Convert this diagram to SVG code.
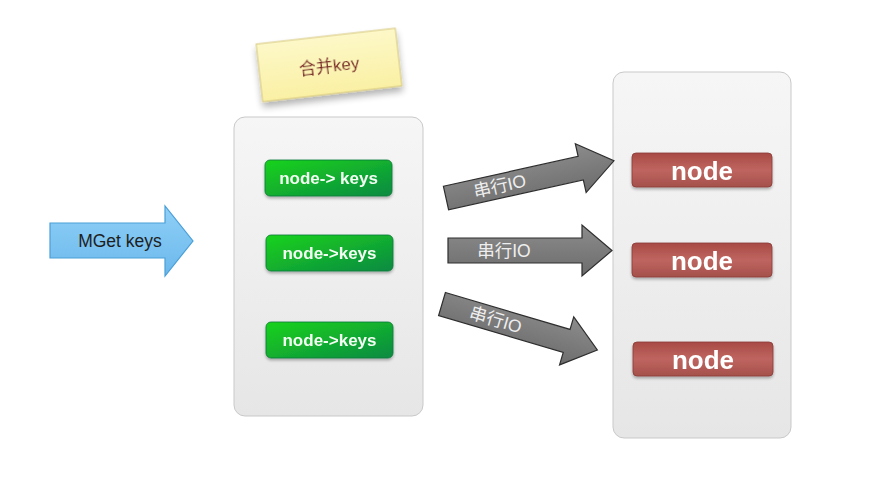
<svg xmlns="http://www.w3.org/2000/svg" width="895" height="483" viewBox="0 0 895 483">
<defs>
<linearGradient id="panel" x1="0" y1="0" x2="0" y2="1"><stop offset="0" stop-color="#f6f6f6"/><stop offset="1" stop-color="#e6e6e6"/></linearGradient>
<linearGradient id="green" x1="0" y1="0" x2="1" y2="1"><stop offset="0" stop-color="#19d31c"/><stop offset="1" stop-color="#0b8a42"/></linearGradient>
<linearGradient id="red" x1="0" y1="0" x2="0" y2="1"><stop offset="0" stop-color="#a84a45"/><stop offset="0.5" stop-color="#bf6560"/><stop offset="1" stop-color="#a5504b"/></linearGradient>
<linearGradient id="gray" x1="0" y1="0" x2="0" y2="1"><stop offset="0" stop-color="#8c8c8c"/><stop offset="1" stop-color="#6c6c6c"/></linearGradient>
<linearGradient id="blue" x1="0" y1="0" x2="0" y2="1"><stop offset="0" stop-color="#8fd0f7"/><stop offset="1" stop-color="#6bb8ec"/></linearGradient>
<linearGradient id="note" x1="0" y1="0" x2="0" y2="1"><stop offset="0" stop-color="#fdf8c8"/><stop offset="1" stop-color="#faf0a4"/></linearGradient>
<filter id="sh" x="-20%" y="-30%" width="140%" height="180%"><feGaussianBlur in="SourceAlpha" stdDeviation="3.5"/><feOffset dy="5" result="b"/><feComponentTransfer><feFuncA type="linear" slope="0.3"/></feComponentTransfer><feMerge><feMergeNode/><feMergeNode in="SourceGraphic"/></feMerge></filter>
<filter id="sh2" x="-10%" y="-20%" width="120%" height="150%"><feGaussianBlur in="SourceAlpha" stdDeviation="1.5"/><feOffset dy="2"/><feComponentTransfer><feFuncA type="linear" slope="0.3"/></feComponentTransfer><feMerge><feMergeNode/><feMergeNode in="SourceGraphic"/></feMerge></filter>
</defs>
<style>
.panel{fill:url(#panel);stroke:#c9c9c9;stroke-width:1}
.btn{fill:url(#green);stroke:#0a7a3a;stroke-width:0.8}
.btxt{font-family:"Liberation Sans",Arial,sans-serif;font-size:17px;font-weight:bold;fill:#f4fff4;text-anchor:middle}
.nd{fill:url(#red);stroke:#8a3a36;stroke-width:0.8}
.ntxt{font-family:"Liberation Sans",Arial,sans-serif;font-size:26px;font-weight:bold;fill:#ffffff;text-anchor:middle}
.ga{fill:url(#gray);stroke:#2e2e2e;stroke-width:1.2}
.gtxt{font-family:"Liberation Sans","Noto Sans CJK SC",sans-serif;font-size:17.5px;fill:#eeeeee;text-anchor:middle}
</style>
<rect width="895" height="483" fill="#ffffff"/>

<g id="panel-left"><rect class="panel" x="234" y="117" width="189" height="299" rx="11"/></g>
<g id="panel-right"><rect class="panel" x="613" y="72" width="178" height="366" rx="11"/></g>

<g id="note" transform="translate(329,65) rotate(-6.5)" filter="url(#sh)">
<rect x="-70" y="-29" width="140" height="58" fill="url(#note)" stroke="#d6c67a" stroke-width="1"/>
<text x="0" y="7" font-family="'Liberation Sans','Noto Sans CJK SC',sans-serif" font-size="17" fill="#7a2323" text-anchor="middle">合并key</text>
</g>

<g id="mget">
<path d="M50,223 L165,223 L165,206 L193,241 L165,276 L165,258 L50,258 Z" fill="url(#blue)" stroke="#4a9fd8" stroke-width="1.2"/>
<text x="120" y="247" font-family="'Liberation Sans',Arial,sans-serif" font-size="17.5" fill="#1e1e1e" text-anchor="middle">MGet keys</text>
</g>

<g id="btn1" filter="url(#sh2)"><rect class="btn" x="265" y="160" width="127" height="36" rx="5"/><text class="btxt" x="328.5" y="184">node-&gt; keys</text></g>
<g id="btn2" filter="url(#sh2)"><rect class="btn" x="266" y="235" width="127" height="36" rx="5"/><text class="btxt" x="329.5" y="259">node-&gt;keys</text></g>
<g id="btn3" filter="url(#sh2)"><rect class="btn" x="266" y="322" width="127" height="36" rx="5"/><text class="btxt" x="329.5" y="346">node-&gt;keys</text></g>

<g id="node1" filter="url(#sh2)"><rect class="nd" x="632" y="153" width="140" height="34" rx="4"/><text class="ntxt" x="702" y="180">node</text></g>
<g id="node2" filter="url(#sh2)"><rect class="nd" x="632" y="243" width="140" height="34" rx="4"/><text class="ntxt" x="702" y="270">node</text></g>
<g id="node3" filter="url(#sh2)"><rect class="nd" x="633" y="342" width="140" height="34" rx="4"/><text class="ntxt" x="703" y="369">node</text></g>

<g id="connectors">
<g transform="translate(446,198) rotate(-12.5)">
<path class="ga" d="M0,-12 L138,-12 L138,-25 L172,0 L138,25 L138,12 L0,12 Z"/>
<text class="gtxt" x="55" y="6">串行IO</text>
</g>
<g transform="translate(448,250.5)">
<path class="ga" d="M0,-12.5 L134,-12.5 L134,-25.5 L164,0 L134,25.5 L134,12.5 L0,12.5 Z"/>
<text class="gtxt" x="56" y="6">串行IO</text>
</g>
<g transform="translate(442,304) rotate(16.5)">
<path class="ga" d="M0,-12 L130,-12 L130,-25 L162,0 L130,25 L130,12 L0,12 Z"/>
<text class="gtxt" x="56" y="6">串行IO</text>
</g>
</g>
</svg>
